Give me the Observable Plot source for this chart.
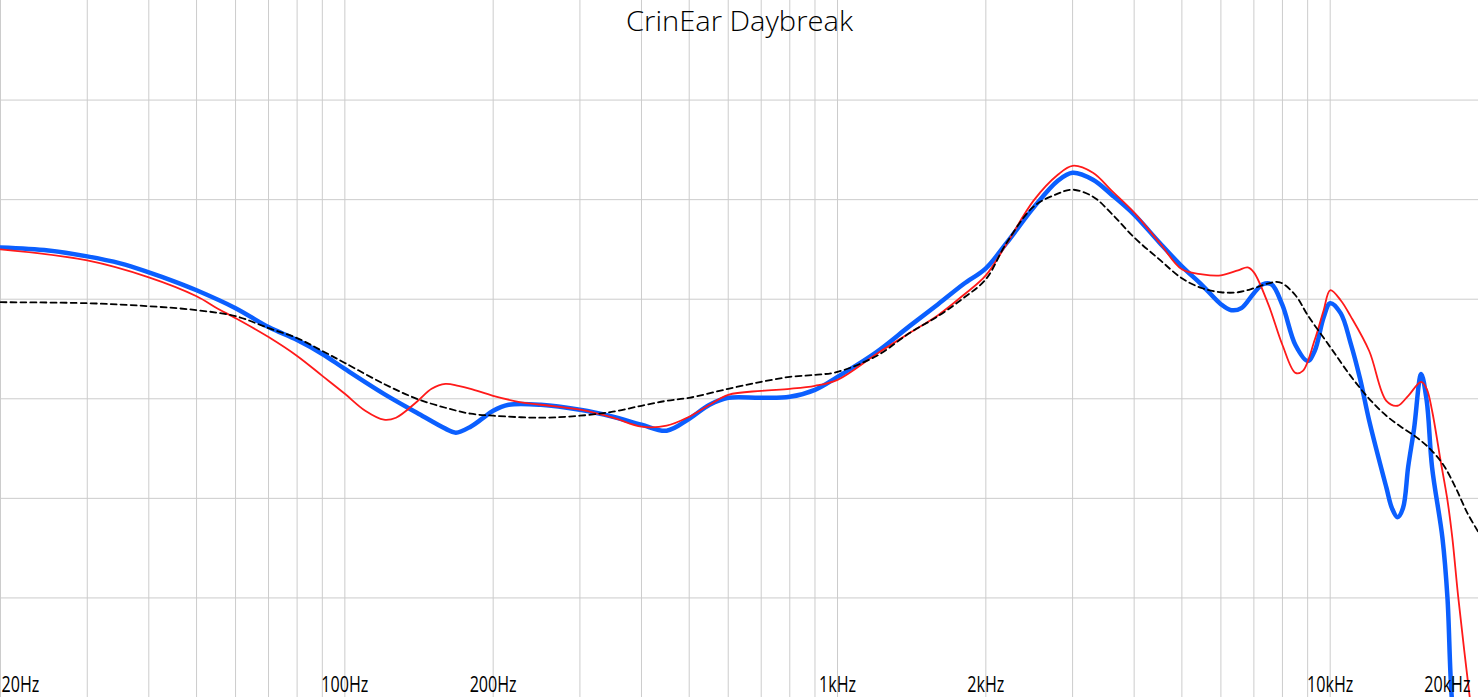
<!DOCTYPE html>
<html><head><meta charset="utf-8">
<script src="https://cdn.jsdelivr.net/npm/d3@7"></script>
<script src="https://cdn.jsdelivr.net/npm/@observablehq/plot@0.6"></script>
<style>html,body{margin:0;padding:0;background:#fff;overflow:hidden} svg{display:block}</style>
</head><body><div id="chart"></div>
<script>
const title = "CrinEar Daybreak";

// Blue (thick) measurement
const blueFreq = [20,25,30,35,40,45,50,60,70,80,90,100,120,140,160,168,180,190,200,215,250,300,350,400,450,500,550,600,700,800,900,1000,1200,1400,1600,1800,2000,2200,2500,2800,3000,3300,3600,4000,4500,5000,5500,6000,6300,6600,7000,7300,7600,8000,8500,9000,9300,9700,10000,10500,11000,11500,12000,13000,13350,13700,14050,14400,14800,15300,15700,16100,16900,17300,17650,18500];
const blueDb = [75.2,74.9,74.3,73.6,72.7,71.8,70.9,69.1,67.2,65.9,64.5,63.0,60.5,58.6,57.0,56.6,57.2,58.0,58.8,59.4,59.4,58.9,58.2,57.4,56.8,58.0,59.4,60.1,60.1,60.2,60.9,62.2,64.7,67.3,69.5,71.5,73.1,75.6,79.2,81.9,82.7,82.0,80.5,78.5,75.7,73.3,71.4,69.5,68.9,69.1,70.6,71.5,71.5,69.4,65.4,63.8,64.8,68.2,69.6,68.6,65.6,62.0,57.8,51.1,49.0,48.1,49.0,53.2,57.0,62.5,59.8,53.1,46.0,40.0,30.0,19.7];

// Red (thin) measurement
const redFreq = [20,30,40,50,55,60,70,80,90,100,110,120,127,140,150,160,170,180,200,225,250,300,350,400,450,500,550,600,700,800,900,1000,1200,1400,1600,1800,2000,2200,2500,2800,3000,3300,3600,4000,4500,5000,5500,6000,6500,6800,7000,7500,8000,8500,8800,9300,9700,10000,10500,11000,12000,13000,13700,14400,15300,15700,16100,16750,17300,17700,18200,19200,20000];
const redDb = [75.0,73.9,72.2,70.3,69.1,68.1,66.2,64.3,62.3,60.5,58.8,57.9,58.1,59.7,61.0,61.5,61.3,61.0,60.3,59.7,59.4,58.9,58.1,57.2,57.3,58.2,59.4,60.4,60.8,61.0,61.3,61.9,64.5,66.6,68.4,70.4,72.4,75.5,79.9,82.5,83.4,82.7,80.9,78.7,75.7,73.0,72.5,72.4,72.9,73.2,72.7,69.4,65.4,62.6,62.8,65.9,68.9,70.9,69.9,68.3,64.8,59.8,59.3,60.3,61.7,61.0,58.8,53.8,49.8,46.0,40.0,30.0,22.7];

// Black dashed target
const targetFreq = [20,30,40,50,60,70,80,90,100,120,140,160,180,200,250,300,350,400,450,500,600,700,800,900,1000,1200,1400,1600,1800,2000,2200,2500,2800,3000,3300,3600,4000,4500,5000,5500,6000,6500,7000,7500,7900,8500,9000,10000,11000,12000,13000,14000,15000,16000,17000,18000,19000,20000];
const targetDb = [69.7,69.6,69.3,68.9,68.3,67.1,66.1,64.8,63.6,61.5,60.0,59.1,58.5,58.3,58.1,58.3,58.7,59.3,59.8,60.1,61.0,61.7,62.2,62.4,62.7,64.3,66.6,68.3,70.1,72.0,75.6,79.3,80.6,81.0,80.3,78.6,76.2,74.0,72.1,71.1,70.7,70.7,71.1,71.6,71.7,70.4,68.4,65.2,62.3,60.0,58.3,57.1,56.1,54.9,53.3,51.0,48.5,46.6];

const gridFreqs = [20,30,40,50,60,70,80,90,100,200,300,400,500,600,700,800,900,1000,2000,3000,4000,5000,6000,7000,8000,9000,10000,20000];
const gridLevels = [40,50,60,70,80,90];
const tickFreqs = [20,100,200,1000,2000,10000,20000];
const tickLabels = ["20Hz","100Hz","200Hz","1kHz","2kHz","10kHz","20kHz"];

const rows = (f, v) => f.map((x, i) => ({f: x, db: v[i]}));
const blueRows = rows(blueFreq, blueDb);
const redRows = rows(redFreq, redDb);
const targetRows = rows(targetFreq, targetDb);

const idx = tickFreqs.map((_, i) => i);
const tickCommon = {x: i => tickFreqs[i], y: 30, text: i => tickLabels[i], lineAnchor: "bottom", fontSize: 22, dy: -6, fill: "#000"};

const chart = Plot.plot({
  width: 1478, height: 697, margin: 0,
  x: {type: "log", domain: [20, 20000], axis: null},
  y: {domain: [30, 100], axis: null},
  style: {background: "#fff", fontFamily: "'Open Sans', sans-serif"},
  marks: [
    Plot.ruleX(gridFreqs, {x: d => d, stroke: "#cccccc", strokeWidth: 1}),
    Plot.ruleY(gridLevels, {y: d => d, stroke: "#cccccc", strokeWidth: 1}),
    Plot.line(blueRows, {x: "f", y: "db", stroke: "#0b5fff", strokeWidth: 4.5, curve: "catmull-rom", clip: true}),
    Plot.line(redRows, {x: "f", y: "db", stroke: "#ff1a1a", strokeWidth: 1.8, curve: "catmull-rom", clip: true}),
    Plot.line(targetRows, {x: "f", y: "db", stroke: "#000", strokeWidth: 1.8, strokeDasharray: "6,4", curve: "catmull-rom", clip: true}),
    Plot.text(idx.slice(0, 1), {...tickCommon, textAnchor: "start", dx: 1}),
    Plot.text(idx.slice(1, 6), {...tickCommon, textAnchor: "middle"}),
    Plot.text(idx.slice(6), {...tickCommon, textAnchor: "end", dx: -8}),
    Plot.text([title], {frameAnchor: "top", text: d => d, fontSize: 28, fontWeight: 300, lineAnchor: "bottom", dy: 30, fill: "#000"})
  ]
});
document.getElementById("chart").appendChild(chart);

// condense text horizontally to match the narrow face of the original
const texts = Array.from(chart.querySelectorAll("text"));
const ref = texts.find(t => t.textContent === "100Hz");
const ratio = ref ? 47 / ref.getComputedTextLength() : 1;
texts.forEach(t => {
  const w = t.getComputedTextLength();
  const target = t.textContent === title ? 227 : w * ratio;
  t.setAttribute("textLength", target);
  t.setAttribute("lengthAdjust", "spacingAndGlyphs");
});
</script>
</body></html>
